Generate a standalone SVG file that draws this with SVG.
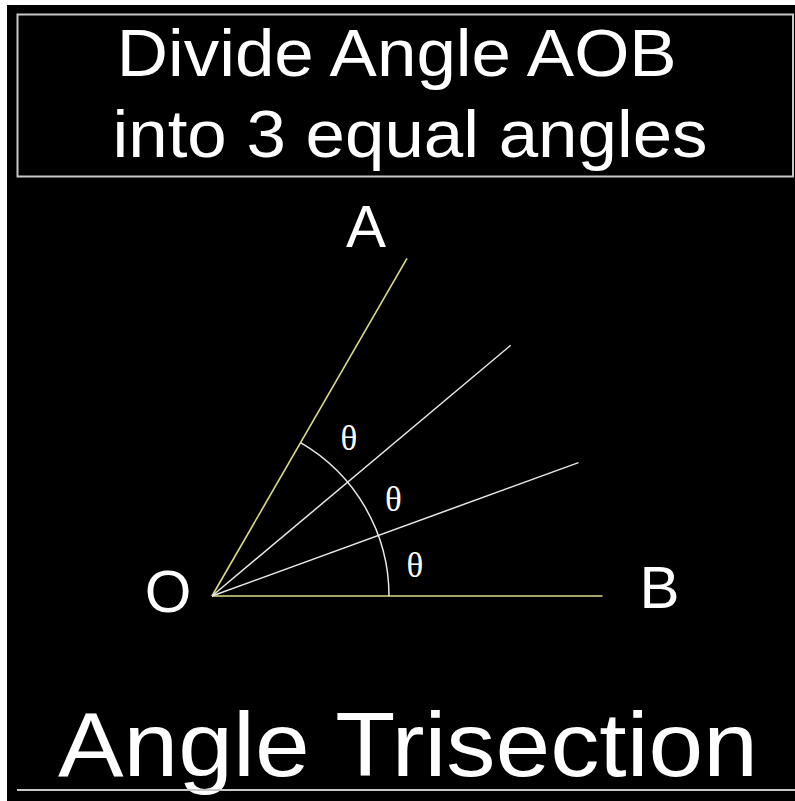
<svg xmlns="http://www.w3.org/2000/svg" width="795" height="801" viewBox="0 0 795 801">
<style>
.frame{fill:none;stroke:#c8c8c8;stroke-width:2}
.big{font-family:"Liberation Sans",Arial,sans-serif;fill:#ffffff}
.lbl{font-family:"Liberation Sans",Arial,sans-serif;font-size:60px;fill:#ffffff;text-anchor:middle}
.th{font-family:"Liberation Serif","Times New Roman",serif;font-size:35px;fill:#ffffff;text-anchor:middle}
.side{stroke:#dcdc88;stroke-width:1.6;fill:none}
.tri{stroke:#e8e8e8;stroke-width:1.5;fill:none}
</style>
<rect x="0" y="0" width="795" height="801" fill="#ffffff"/>
<rect x="7" y="5" width="788" height="796" fill="#000000"/>
<g id="title">
<rect class="frame" x="17.5" y="14.5" width="775.5" height="162"/>
<text class="big" x="116.7" y="76" font-size="67" textLength="560" lengthAdjust="spacingAndGlyphs">Divide Angle AOB</text>
<text class="big" x="112.5" y="157" font-size="67" textLength="595" lengthAdjust="spacingAndGlyphs">into 3 equal angles</text>
</g>
<g id="connectors">
<line class="side" x1="212" y1="596" x2="407" y2="258.3"/>
<line class="side" x1="212" y1="596" x2="602.5" y2="596"/>
<line class="tri" x1="212" y1="596" x2="510.7" y2="345.3"/>
<line class="tri" x1="212" y1="596" x2="578.5" y2="462.6"/>
<path class="tri" d="M389 596 A177 177 0 0 0 300.5 442.7"/>
</g>
<g id="label-A"><text class="lbl" x="366" y="246.5">A</text></g>
<g id="label-O"><text class="lbl" x="168" y="612">O</text></g>
<g id="label-B"><text class="lbl" x="659.5" y="608">B</text></g>
<g id="theta-1"><text class="th" x="349" y="450">θ</text></g>
<g id="theta-2"><text class="th" x="393.5" y="511">θ</text></g>
<g id="theta-3"><text class="th" x="415" y="577">θ</text></g>
<g id="footer">
<text class="big" x="58" y="776" font-size="90" textLength="700" lengthAdjust="spacingAndGlyphs">Angle Trisection</text>
<line class="frame" x1="17" y1="790" x2="795" y2="790"/>
</g>
</svg>
